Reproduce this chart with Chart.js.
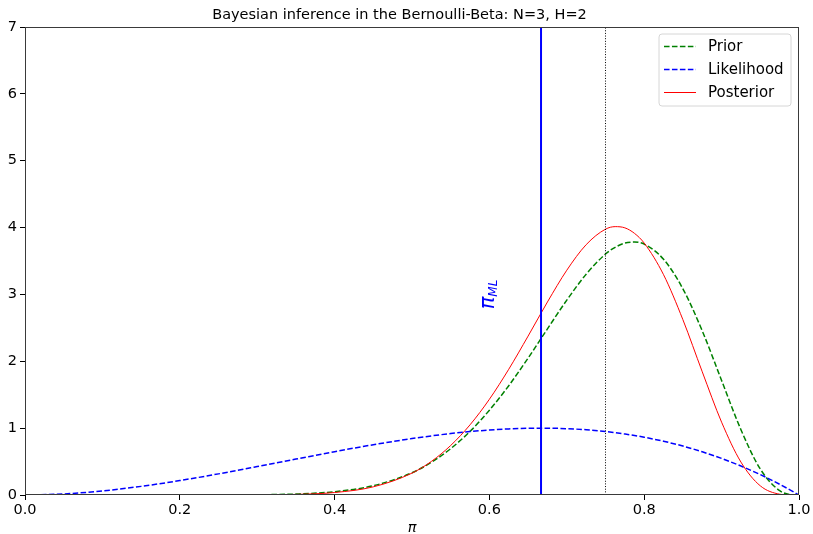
<!DOCTYPE html>
<html><head><meta charset="utf-8">
<script src="https://cdn.jsdelivr.net/npm/chart.js@4"></script>
<style>html,body{margin:0;padding:0;background:#fff}#wrap{width:813px;height:534px}</style>
</head><body><div id="wrap"><canvas id="c" width="813" height="534"></canvas></div>
<script>
const titleText = 'Bayesian inference in the Bernoulli-Beta: N=3, H=2';
const xLabel = 'π';
const xs = [0, 0.05, 0.1, 0.15, 0.2, 0.25, 0.3, 0.35, 0.4, 0.45, 0.5, 0.525, 0.55, 0.575, 0.6, 0.625, 0.65, 0.675, 0.7, 0.725, 0.75, 0.7625, 0.775, 0.7875, 0.8, 0.825, 0.85, 0.875, 0.9, 0.925, 0.95, 0.975, 0.99, 1.0];
const prior = [0, 0, 0, 0, 0, 0.0006, 0.0033, 0.0145, 0.0495, 0.139, 0.333, 0.489, 0.693, 0.952, 1.268, 1.635, 2.048, 2.485, 2.915, 3.302, 3.604, 3.705, 3.768, 3.784, 3.752, 3.526, 3.084, 2.455, 1.713, 0.977, 0.388, 0.0646, 0.0049, 0];
const likelihood = [0, 0.016, 0.061, 0.129, 0.216, 0.316, 0.425, 0.537, 0.648, 0.752, 0.844, 0.884, 0.919, 0.948, 0.972, 0.989, 0.998, 1.0, 0.992, 0.976, 0.949, 0.932, 0.912, 0.890, 0.864, 0.804, 0.732, 0.646, 0.547, 0.433, 0.305, 0.160, 0.066, 0];
const posterior = [0, 0, 0, 0, 0, 0.0002, 0.0016, 0.009, 0.037, 0.122, 0.327, 0.502, 0.741, 1.050, 1.432, 1.881, 2.377, 2.887, 3.362, 3.744, 3.976, 4.014, 3.996, 3.913, 3.768, 3.295, 2.622, 1.843, 1.089, 0.492, 0.137, 0.012, 0.0004, 0];
const mlValue = [0.6667];
const priorMean = [0.75];
const yRange = [0, 7];
const xTicks = [0, 0.2, 0.4, 0.6, 0.8, 1.0];
const yTicks = [0, 1, 2, 3, 4, 5, 6, 7];
const seriesNames = ['Prior', 'Likelihood', 'Posterior'];
const mlLabel = ['π', 'ML'];
const mlLabelAt = [0.6, 3];

const FONT = "'DejaVu Sans', sans-serif";
const pts = ys => xs.map((x, i) => ({x: x, y: ys[i]}));
const vline = v => yRange.map(y => ({x: v, y: y}));

const frameLegendPlugin = {
  id: 'frameLegend',
  afterDatasetsDraw(chart) {
    const ctx = chart.ctx, a = chart.chartArea;
    const sx = chart.scales.x, sy = chart.scales.y;
    // pi_ML annotation
    ctx.save();
    const px = sx.getPixelForValue(mlLabelAt[0]);
    const py = sy.getPixelForValue(mlLabelAt[1]);
    ctx.translate(px, py);
    ctx.rotate(-Math.PI / 2);
    ctx.fillStyle = '#0000ff';
    ctx.textBaseline = 'alphabetic';
    ctx.textAlign = 'left';
    ctx.font = 'italic 21px ' + FONT;
    const w1 = ctx.measureText(mlLabel[0]).width;
    ctx.font = 'italic 12px ' + FONT;
    const w2 = ctx.measureText(mlLabel[1]).width;
    const start = -(w1 + w2) / 2;
    ctx.font = 'italic 21px ' + FONT;
    ctx.fillText(mlLabel[0], start, 5);
    ctx.font = 'italic 12px ' + FONT;
    ctx.fillText(mlLabel[1], start + w1, 8);
    ctx.restore();

    // frame
    ctx.save();
    ctx.strokeStyle = '#3a3a3a';
    ctx.lineWidth = 1;
    ctx.strokeRect(Math.round(a.left) + 0.5, Math.round(a.top) + 0.5, Math.round(a.right - a.left) - 1, Math.round(a.bottom - a.top) - 1);
    ctx.restore();

    // legend
    const items = chart.data.datasets.filter(d => d.inLegend);
    const bw = 132, bh = 72;
    const bx = a.right - 8 - bw, by = a.top + 7;
    ctx.save();
    const r = 3;
    ctx.beginPath();
    ctx.moveTo(bx + r, by);
    ctx.lineTo(bx + bw - r, by);
    ctx.arcTo(bx + bw, by, bx + bw, by + r, r);
    ctx.lineTo(bx + bw, by + bh - r);
    ctx.arcTo(bx + bw, by + bh, bx + bw - r, by + bh, r);
    ctx.lineTo(bx + r, by + bh);
    ctx.arcTo(bx, by + bh, bx, by + bh - r, r);
    ctx.lineTo(bx, by + r);
    ctx.arcTo(bx, by, bx + r, by, r);
    ctx.closePath();
    ctx.fillStyle = 'rgba(255,255,255,0.8)';
    ctx.fill();
    ctx.strokeStyle = '#d6d6d6';
    ctx.lineWidth = 1;
    ctx.stroke();
    items.forEach((d, i) => {
      const cy = by + 12.5 + i * 23;
      ctx.beginPath();
      ctx.setLineDash(d.borderDash || []);
      ctx.strokeStyle = d.borderColor;
      ctx.lineWidth = d.borderWidth;
      ctx.moveTo(bx + 5, cy);
      ctx.lineTo(bx + 37, cy);
      ctx.stroke();
      ctx.setLineDash([]);
      ctx.fillStyle = '#000';
      ctx.font = '15px ' + FONT;
      ctx.textBaseline = 'middle';
      ctx.fillText(d.label, bx + 49, cy + 0.5);
    });
    ctx.restore();
  }
};

new Chart(document.getElementById('c'), {
  type: 'line',
  data: {
    datasets: [
      {label: 'ML', data: vline(mlValue[0]), borderColor: '#0000ff', borderWidth: 2, pointRadius: 0, order: 1},
      {label: 'mean', data: vline(priorMean[0]), borderColor: '#000000', borderWidth: 1, borderDash: [1, 1.65], pointRadius: 0, order: 2},
      {label: seriesNames[0], inLegend: true, data: pts(prior), borderColor: '#008000', borderWidth: 1.5, borderDash: [5.55, 2.4], pointRadius: 0, cubicInterpolationMode: 'monotone', order: 5},
      {label: seriesNames[1], inLegend: true, data: pts(likelihood), borderColor: '#0000ff', borderWidth: 1.5, borderDash: [5.55, 2.4], pointRadius: 0, cubicInterpolationMode: 'monotone', order: 4},
      {label: seriesNames[2], inLegend: true, data: pts(posterior), borderColor: '#ff0000', borderWidth: 1, pointRadius: 0, cubicInterpolationMode: 'monotone', order: 3}
    ]
  },
  options: {
    responsive: false,
    animation: false,
    events: [],
    layout: {padding: {left: 0, right: 14, top: 0, bottom: 0}},
    plugins: {
      legend: {display: false},
      tooltip: {enabled: false},
      title: {display: true, text: titleText, color: '#000', font: {family: FONT, size: 14.5, weight: 'normal'}, padding: {top: 6.3, bottom: 3.3}}
    },
    scales: {
      x: {
        type: 'linear', min: 0, max: 1,
        afterBuildTicks: s => { s.ticks = xTicks.map(v => ({value: v})); },
        afterFit: s => { s.height = 39; },
        ticks: {callback: v => Number(v).toFixed(1), color: '#000', font: {family: FONT, size: 14.5}, padding: 2, maxRotation: 0, autoSkip: false},
        grid: {drawOnChartArea: false, drawTicks: true, tickLength: 5, tickColor: '#000', tickWidth: 1},
        border: {display: false},
        title: {display: true, text: xLabel, color: '#000', font: {family: FONT, size: 14.5, style: 'italic'}, padding: {top: 0, bottom: -3}}
      },
      y: {
        type: 'linear', min: yRange[0], max: yRange[1],
        afterBuildTicks: s => { s.ticks = yTicks.map(v => ({value: v})); },
        afterFit: s => { s.width = 25; },
        ticks: {callback: v => String(v), color: '#000', font: {family: FONT, size: 14.5}, padding: 3, autoSkip: false},
        grid: {drawOnChartArea: false, drawTicks: true, tickLength: 5, tickColor: '#000', tickWidth: 1},
        border: {display: false}
      }
    }
  },
  plugins: [frameLegendPlugin]
});
</script>
</body></html>
